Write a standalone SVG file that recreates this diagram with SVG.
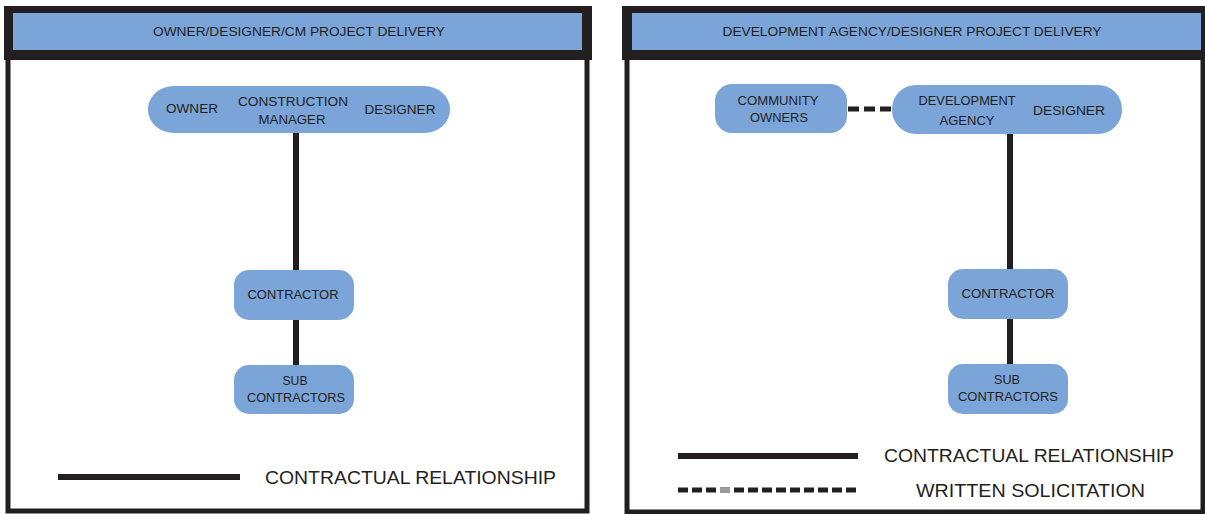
<svg xmlns="http://www.w3.org/2000/svg" width="1205" height="514" viewBox="0 0 1205 514">
<style>
text{font-family:"Liberation Sans",Arial,sans-serif;fill:#231f20;text-anchor:middle;dominant-baseline:central}
.hdr{font-size:13px}
.lbl{font-size:13px}
.leg{font-size:18.5px;text-anchor:start}
.node{fill:#7ba4d8}
.frame{fill:#231f20}
.band{fill:#7ba4d8}
.body{fill:none;stroke:#231f20;stroke-width:5}
.solid{stroke:#231f20;stroke-width:6;fill:none}
.dash{stroke:#231f20;stroke-width:5;fill:none;stroke-dasharray:11 5}
</style>
<rect width="1205" height="514" fill="#ffffff"/>
<g id="panel-left">
<path class="body" d="M8,58 V511 H587 V58"/>
<rect class="frame" x="4" y="6" width="588" height="54"/>
<rect class="band" x="13" y="13" width="569" height="37"/>
<text class="hdr" x="299" y="31" textLength="292" lengthAdjust="spacingAndGlyphs">OWNER/DESIGNER/CM PROJECT DELIVERY</text>
</g>
<g id="panel-right">
<path class="body" d="M627,58 V512 H1203 V58"/>
<rect class="frame" x="622" y="6" width="583" height="54"/>
<rect class="band" x="632" y="13" width="569" height="37"/>
<text class="hdr" x="912" y="31" textLength="379" lengthAdjust="spacingAndGlyphs">DEVELOPMENT AGENCY/DESIGNER PROJECT DELIVERY</text>
</g>
<g id="connectors">
<line class="solid" x1="296" y1="132" x2="296" y2="271"/>
<line class="solid" x1="296" y1="319" x2="296" y2="366"/>
<line class="solid" x1="1010" y1="133" x2="1010" y2="270"/>
<line class="solid" x1="1010" y1="318" x2="1010" y2="365"/>
<line class="dash" x1="848" y1="109" x2="892" y2="109"/>
</g>
<g id="node-owner-cm-designer">
<rect class="node" x="148" y="86" width="302" height="47" rx="26" ry="23"/>
<text class="lbl" x="192" y="108" textLength="52" lengthAdjust="spacingAndGlyphs">OWNER</text>
<text class="lbl" x="293" y="101" textLength="110" lengthAdjust="spacingAndGlyphs">CONSTRUCTION</text>
<text class="lbl" x="292" y="119" textLength="67" lengthAdjust="spacingAndGlyphs">MANAGER</text>
<text class="lbl" x="400" y="109" textLength="71" lengthAdjust="spacingAndGlyphs">DESIGNER</text>
</g>
<g id="node-contractor-left">
<rect class="node" x="234" y="270" width="120" height="50" rx="15"/>
<text class="lbl" x="293" y="294" textLength="91" lengthAdjust="spacingAndGlyphs">CONTRACTOR</text>
</g>
<g id="node-sub-left">
<rect class="node" x="234" y="365" width="120" height="49" rx="15"/>
<text class="lbl" x="295" y="380" textLength="25" lengthAdjust="spacingAndGlyphs">SUB</text>
<text class="lbl" x="296" y="397" textLength="98" lengthAdjust="spacingAndGlyphs">CONTRACTORS</text>
</g>
<g id="legend-left">
<line class="solid" x1="58" y1="477" x2="240" y2="477"/>
<text class="leg" x="265" y="477" textLength="291" lengthAdjust="spacingAndGlyphs">CONTRACTUAL RELATIONSHIP</text>
</g>
<g id="node-community-owners">
<rect class="node" x="715" y="84" width="132" height="49" rx="17"/>
<text class="lbl" x="778" y="100" textLength="81" lengthAdjust="spacingAndGlyphs">COMMUNITY</text>
<text class="lbl" x="779" y="117" textLength="58" lengthAdjust="spacingAndGlyphs">OWNERS</text>
</g>
<g id="node-agency-designer">
<rect class="node" x="892" y="85" width="230" height="49" rx="24"/>
<text class="lbl" x="967" y="100" textLength="97" lengthAdjust="spacingAndGlyphs">DEVELOPMENT</text>
<text class="lbl" x="967" y="120" textLength="55" lengthAdjust="spacingAndGlyphs">AGENCY</text>
<text class="lbl" x="1069" y="110" textLength="72" lengthAdjust="spacingAndGlyphs">DESIGNER</text>
</g>
<g id="node-contractor-right">
<rect class="node" x="948" y="269" width="120" height="50" rx="15"/>
<text class="lbl" x="1008" y="293" textLength="93" lengthAdjust="spacingAndGlyphs">CONTRACTOR</text>
</g>
<g id="node-sub-right">
<rect class="node" x="948" y="364" width="120" height="50" rx="15"/>
<text class="lbl" x="1007" y="379" textLength="26" lengthAdjust="spacingAndGlyphs">SUB</text>
<text class="lbl" x="1008" y="396" textLength="100" lengthAdjust="spacingAndGlyphs">CONTRACTORS</text>
</g>
<g id="legend-right">
<line class="solid" x1="678" y1="456" x2="858" y2="456"/>
<text class="leg" x="884" y="455" textLength="290" lengthAdjust="spacingAndGlyphs">CONTRACTUAL RELATIONSHIP</text>
<line class="dash" x1="678" y1="490" x2="858" y2="490" style="stroke-dasharray:10 4"/>
<line x1="720" y1="490" x2="730" y2="490" stroke="#9a9a9a" stroke-width="5"/>
<text class="leg" x="916" y="490" textLength="229" lengthAdjust="spacingAndGlyphs">WRITTEN SOLICITATION</text>
</g>
</svg>
